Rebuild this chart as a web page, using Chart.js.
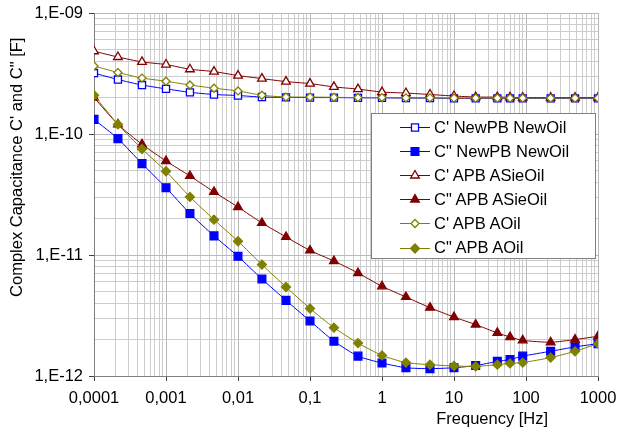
<!DOCTYPE html>
<html>
<head>
<meta charset="utf-8">
<script src="https://cdn.jsdelivr.net/npm/chart.js@4.4.0/dist/chart.umd.min.js"></script>
<style>
  body { margin: 0; background: #fff; }
  #wrap { position: relative; width: 617px; height: 432px; }
  #legend {
    position: absolute; left: 371px; top: 113px; width: 225px; height: 146px;
    box-sizing: border-box; border: 1px solid #808080; background: #fff;
    font-family: "Liberation Sans", Arial, sans-serif; font-size: 16.5px; color: #000;
  }
  .row { position: absolute; left: 0; height: 24px; display: flex; align-items: center; white-space: nowrap; }
  .row canvas { margin-left: 28px; margin-right: 4px; }
</style>
</head>
<body>
<div id="wrap">
  <canvas id="capChart" width="617" height="432"></canvas>
  <div id="legend"></div>
</div>
<script>
// measurement frequencies [Hz]
const freqHz = [0.0001, 0.000215, 0.000464, 0.001, 0.00215, 0.00464, 0.01, 0.0215, 0.0464,
  0.1, 0.215, 0.464, 1, 2.15, 4.64, 10, 20, 40, 60, 90, 220, 480, 1000];

// C' / C'' values [F]
const cReNewPB = [3.19e-10, 2.82e-10, 2.54e-10, 2.36e-10, 2.21e-10, 2.12e-10, 2.08e-10, 2.02e-10, 2.01e-10,
  2.00e-10, 2.00e-10, 1.99e-10, 1.99e-10, 1.98e-10, 1.98e-10, 1.97e-10, 1.97e-10, 1.97e-10, 1.97e-10,
  1.97e-10, 1.97e-10, 1.97e-10, 1.97e-10];
const cImNewPB = [1.32e-10, 9.16e-11, 5.69e-11, 3.60e-11, 2.20e-11, 1.44e-11, 9.75e-12, 6.33e-12, 4.22e-12,
  2.85e-12, 1.94e-12, 1.46e-12, 1.28e-12, 1.17e-12, 1.15e-12, 1.17e-12, 1.22e-12, 1.32e-12, 1.37e-12,
  1.46e-12, 1.60e-12, 1.74e-12, 1.85e-12];
const cReASie = [4.83e-10, 4.33e-10, 3.94e-10, 3.75e-10, 3.43e-10, 3.28e-10, 3.04e-10, 2.87e-10, 2.71e-10,
  2.61e-10, 2.45e-10, 2.35e-10, 2.22e-10, 2.18e-10, 2.12e-10, 2.06e-10, 2.02e-10, 2.02e-10, 2.01e-10,
  2.00e-10, 2.00e-10, 2.00e-10, 2.00e-10];
const cImASie = [2.00e-10, 1.20e-10, 8.22e-11, 5.98e-11, 4.50e-11, 3.32e-11, 2.49e-11, 1.84e-11, 1.41e-11,
  1.09e-11, 8.92e-12, 7.10e-12, 5.51e-12, 4.50e-12, 3.67e-12, 3.07e-12, 2.66e-12, 2.27e-12, 2.10e-12,
  1.97e-12, 1.90e-12, 2.00e-12, 2.13e-12];
const cReAOil = [3.65e-10, 3.22e-10, 2.90e-10, 2.73e-10, 2.54e-10, 2.39e-10, 2.27e-10, 2.09e-10, 2.02e-10,
  2.02e-10, 2.01e-10, 2.00e-10, 2.00e-10, 1.99e-10, 1.99e-10, 1.98e-10, 1.98e-10, 1.98e-10, 1.98e-10,
  1.98e-10, 1.98e-10, 1.98e-10, 1.98e-10];
const cImAOil = [2.09e-10, 1.20e-10, 7.52e-11, 4.92e-11, 3.02e-11, 1.96e-11, 1.30e-11, 8.33e-12, 5.44e-12,
  3.61e-12, 2.51e-12, 1.87e-12, 1.48e-12, 1.29e-12, 1.24e-12, 1.21e-12, 1.20e-12, 1.24e-12, 1.27e-12,
  1.29e-12, 1.42e-12, 1.60e-12, 1.85e-12];

const seriesNames = ["C' NewPB NewOil", 'C" NewPB NewOil', "C' APB ASieOil", 'C" APB ASieOil', "C' APB AOil", 'C" APB AOil'];

// tick labels
const xDecades = [0.0001, 0.001, 0.01, 0.1, 1, 10, 100, 1000];
const xTickLabels = ['0,0001', '0,001', '0,01', '0,1', '1', '10', '100', '1000'];
const yDecades = [1e-12, 1e-11, 1e-10, 1e-9];
const yTickLabels = ['1,E-12', '1,E-11', '1,E-10', '1,E-09'];

const BLUE = '#0000ff', RED = '#800000', OLIVE = '#808000';
const FONT = "'Liberation Sans', Arial, sans-serif";

function series(i, values, color, style, filled, radius) {
  return {
    label: seriesNames[i],
    data: freqHz.map((f, k) => ({ x: f, y: values[k] })),
    borderColor: color,
    borderWidth: 1,
    tension: 0.2,
    pointStyle: style,
    pointRadius: radius,
    pointBorderWidth: 1.3,
    pointBorderColor: color,
    pointBackgroundColor: filled ? color : '#ffffff',
    order: 6 - i
  };
}

const datasets = [
  series(0, cReNewPB, BLUE, 'rect', false, 5),
  series(1, cImNewPB, BLUE, 'rect', true, 5.5),
  series(2, cReASie, RED, 'triangle', false, 5),
  series(3, cImASie, RED, 'triangle', true, 5),
  series(4, cReAOil, OLIVE, 'rectRot', false, 4),
  series(5, cImAOil, OLIVE, 'rectRot', true, 4.5)
];

// ticks at 1..9 x 10^n, labels only on decades
function logTicks(decades) {
  const out = [];
  decades.forEach((d, i) => {
    const last = i === decades.length - 1;
    for (let m = 1; m <= (last ? 1 : 9); m++) {
      out.push({ value: +(d * m).toPrecision(3), major: m === 1 });
    }
  });
  return out;
}

function labelFor(decades, labels, v) {
  const i = decades.findIndex(d => Math.abs(v / d - 1) < 1e-6);
  return i >= 0 ? labels[i] : '';
}

const gridColor = ctx => ctx.tick && ctx.tick.major ? '#b8b8b8' : '#cccccc';
const tickColor = ctx => ctx.tick && ctx.tick.major ? '#404040' : 'rgba(0,0,0,0)';

// axis titles placed like the original (x title right of centre, y title above centre)
const axisTitles = {
  id: 'axisTitles',
  afterDraw(chart) {
    const { ctx, chartArea } = chart;
    ctx.save();
    ctx.font = '16.5px ' + FONT;
    ctx.fillStyle = '#000';
    ctx.textAlign = 'center';
    ctx.textBaseline = 'middle';
    ctx.fillText('Frequency [Hz]', chartArea.left + (chartArea.right - chartArea.left) * 0.79, chartArea.bottom + 43);
    ctx.translate(17, chartArea.top + (chartArea.bottom - chartArea.top) * 0.425);
    ctx.rotate(-Math.PI / 2);
    ctx.fillText('Complex Capacitance C\' and C" [F]', 0, 0);
    ctx.restore();
  }
};

new Chart(document.getElementById('capChart'), {
  type: 'line',
  data: { datasets },
  plugins: [axisTitles],
  options: {
    responsive: false,
    animation: false,
    layout: { padding: { top: 13, right: 19, left: 0, bottom: 0 } },
    plugins: { legend: { display: false }, tooltip: { enabled: false } },
    scales: {
      x: {
        type: 'logarithmic',
        min: 0.0001,
        max: 1000,
        afterBuildTicks: axis => { axis.ticks = logTicks(xDecades); },
        afterFit: axis => { axis.height = 56; axis.paddingLeft = 0; axis.paddingRight = 0; },
        ticks: {
          autoSkip: false, maxRotation: 0, padding: 8,
          color: '#000', font: { family: FONT, size: 16.5 },
          callback: v => labelFor(xDecades, xTickLabels, v)
        },
        grid: { color: gridColor, tickColor: tickColor, tickLength: 5, lineWidth: 1 },
        border: { color: '#808080', width: 1 }
      },
      y: {
        type: 'logarithmic',
        min: 1e-12,
        max: 1e-9,
        afterBuildTicks: axis => { axis.ticks = logTicks(yDecades); },
        afterFit: axis => { axis.width = 94; axis.paddingTop = 0; axis.paddingBottom = 0; },
        ticks: {
          autoSkip: false, padding: 6,
          color: '#000', font: { family: FONT, size: 16.5 },
          callback: v => labelFor(yDecades, yTickLabels, v)
        },
        grid: { color: gridColor, tickColor: tickColor, tickLength: 5, lineWidth: 1 },
        border: { color: '#808080', width: 1 }
      }
    }
  }
});

// legend box inside the plot, built from the datasets
const legendEl = document.getElementById('legend');
datasets.forEach((ds, i) => {
  const row = document.createElement('div');
  row.className = 'row';
  row.style.top = (1 + i * 24.1) + 'px';
  const c = document.createElement('canvas');
  c.width = 30; c.height = 16;
  const g = c.getContext('2d');
  g.strokeStyle = ds.borderColor;
  g.lineWidth = 1;
  g.beginPath(); g.moveTo(0, 8.5); g.lineTo(30, 8.5); g.stroke();
  g.fillStyle = ds.pointBackgroundColor;
  g.strokeStyle = ds.pointBorderColor;
  g.lineWidth = ds.pointBorderWidth;
  Chart.helpers.drawPoint(g, { pointStyle: ds.pointStyle, radius: ds.pointRadius, rotation: 0, borderWidth: ds.pointBorderWidth }, 15, 8.5);
  row.appendChild(c);
  const t = document.createElement('span');
  t.textContent = ds.label;
  row.appendChild(t);
  legendEl.appendChild(row);
});
</script>
</body>
</html>
